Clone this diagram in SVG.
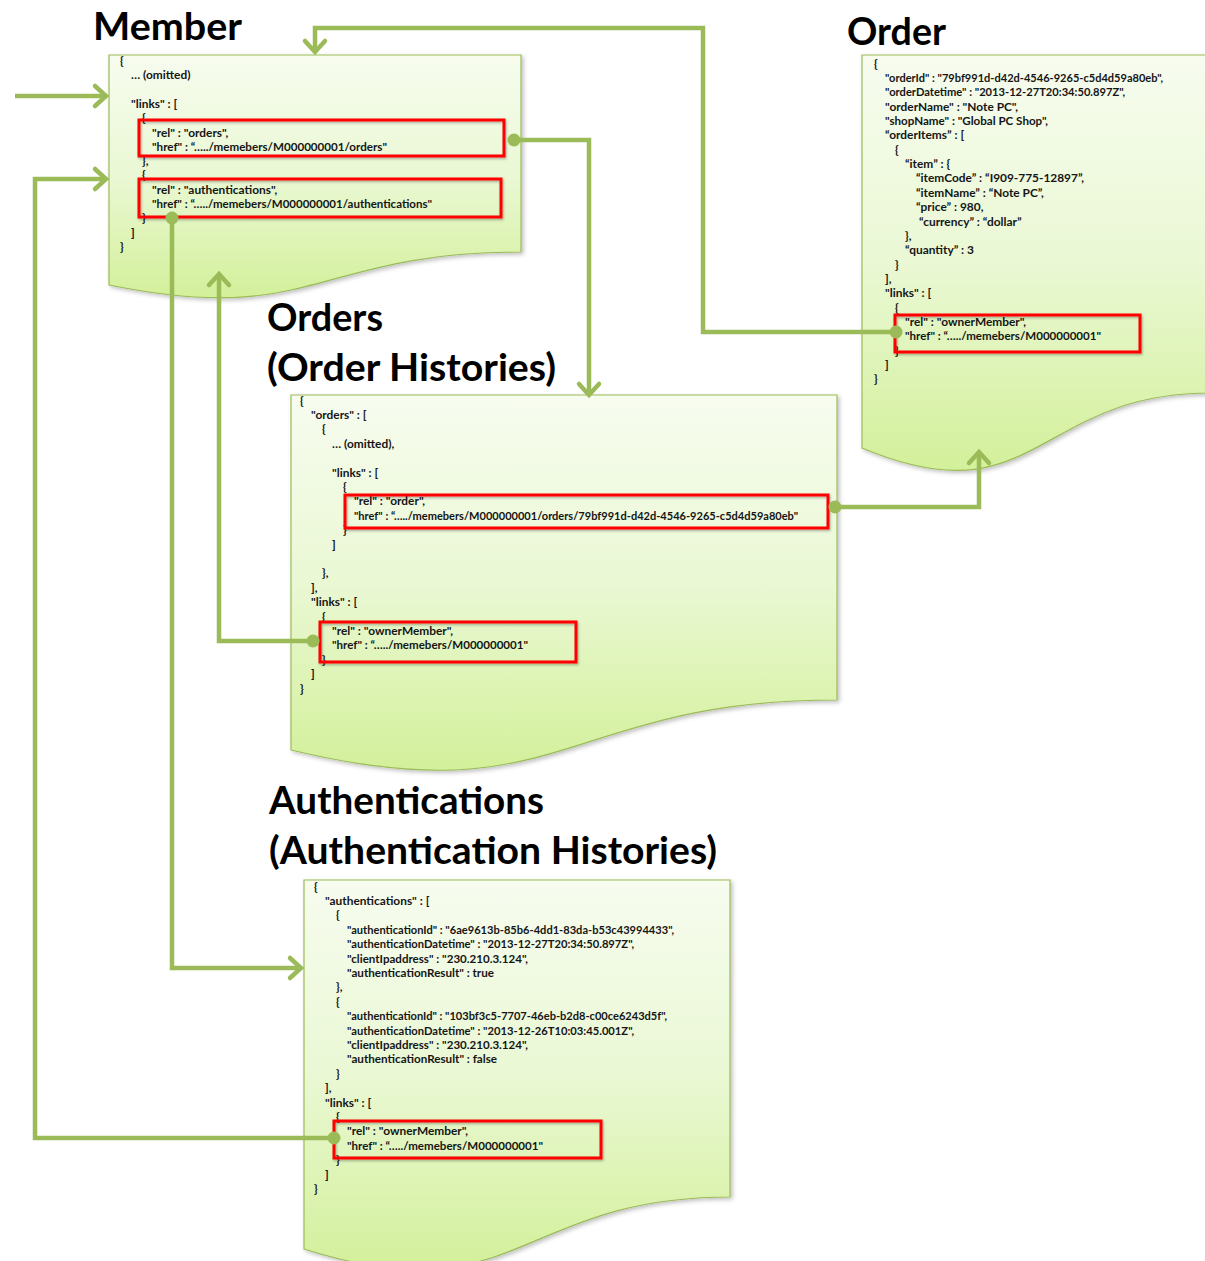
<svg xmlns="http://www.w3.org/2000/svg" width="1205" height="1261" viewBox="0 0 1205 1261">
<style>
.doc{fill:url(#docfill);stroke:#9bbb59;stroke-width:1.2;filter:url(#shadow)}
.ttl{font-family:Lato,"Open Sans","Liberation Sans",sans-serif;font-weight:bold;font-size:38px;fill:#000}
.j{font-family:Lato,"Liberation Sans",sans-serif;font-weight:bold;font-size:11.9px;fill:#151515}
.hl{fill:none;stroke:#ff0000;stroke-width:3;filter:url(#rshadow)}
.con{fill:none;stroke:#9bbb59;stroke-width:4.5;stroke-linejoin:miter;marker-start:url(#dot);marker-end:url(#arr)}
.con0{fill:none;stroke:#9bbb59;stroke-width:4.5;marker-end:url(#arr)}
</style>
<defs>
<linearGradient id="docfill" x1="0" y1="0" x2="0" y2="1">
<stop offset="0" stop-color="#f7fcef"/>
<stop offset="0.5" stop-color="#eaf8d4"/>
<stop offset="1" stop-color="#d3f09a"/>
</linearGradient>
<filter id="shadow" x="-5%" y="-5%" width="115%" height="115%">
<feDropShadow dx="2" dy="2" stdDeviation="2" flood-color="#000" flood-opacity="0.25"/>
</filter>
<filter id="rshadow" x="-5%" y="-20%" width="115%" height="150%">
<feDropShadow dx="1" dy="1.5" stdDeviation="1" flood-color="#000" flood-opacity="0.3"/>
</filter>
<marker id="arr" markerUnits="userSpaceOnUse" viewBox="-16 -14 22 28" refX="0" refY="0" markerWidth="22" markerHeight="28" orient="auto" overflow="visible">
<path d="M-11,-10 L0,0 L-11,10" fill="none" stroke="#9bbb59" stroke-width="4.5" stroke-linecap="round" stroke-linejoin="miter"/>
</marker>
<marker id="dot" markerUnits="userSpaceOnUse" viewBox="-8 -8 16 16" refX="0" refY="0" markerWidth="16" markerHeight="16" orient="auto">
<circle cx="0" cy="0" r="6.5" fill="#9bbb59"/>
</marker>
</defs>

<g id="member">
<path class="doc" d="M109,55 H521 V252 C315,252 315,327 109,285 Z"/>
<text class="ttl" x="93" y="40" textLength="149" lengthAdjust="spacingAndGlyphs">Member</text>
<text class="j" x="120" y="64.5">{</text>
<text class="j" x="131" y="79">… (omitted)</text>
<text class="j" x="131" y="108">"links" : [</text>
<text class="j" x="142" y="122">{</text>
<text class="j" x="152" y="136.5">"rel" : "orders",</text>
<text class="j" x="152" y="151" textLength="235" lengthAdjust="spacingAndGlyphs">"href" : “…../memebers/M000000001/orders"</text>
<text class="j" x="142" y="165">},</text>
<text class="j" x="142" y="179">{</text>
<text class="j" x="152" y="193.5">"rel" : "authentications",</text>
<text class="j" x="152" y="208" textLength="280" lengthAdjust="spacingAndGlyphs">"href" : “…../memebers/M000000001/authentications"</text>
<text class="j" x="142" y="222">}</text>
<text class="j" x="131" y="236.5">]</text>
<text class="j" x="120" y="251">}</text>
<rect class="hl" x="139" y="120" width="365" height="36"/>
<rect class="hl" x="139" y="179" width="362" height="38"/>
</g>

<g id="order">
<path class="doc" d="M862,55 H1210 V393 C1036,393 1036,521 862,448 Z"/>
<text class="ttl" x="847" y="45" textLength="99" lengthAdjust="spacingAndGlyphs">Order</text>
<text class="j" x="874" y="67.5">{</text>
<text class="j" x="885" y="81.9" textLength="278" lengthAdjust="spacingAndGlyphs">"orderId" : "79bf991d-d42d-4546-9265-c5d4d59a80eb",</text>
<text class="j" x="885" y="96.2" textLength="240" lengthAdjust="spacingAndGlyphs">"orderDatetime" : "2013-12-27T20:34:50.897Z",</text>
<text class="j" x="885" y="110.6">"orderName" : "Note PC",</text>
<text class="j" x="885" y="124.9" textLength="163" lengthAdjust="spacingAndGlyphs">"shopName" : "Global PC Shop",</text>
<text class="j" x="885" y="139.3">“orderItems” : [</text>
<text class="j" x="895" y="153.7">{</text>
<text class="j" x="905" y="168">“item” : {</text>
<text class="j" x="916" y="182.4">“itemCode” : “I909-775-12897”,</text>
<text class="j" x="916" y="196.7">“itemName” : “Note PC”,</text>
<text class="j" x="916" y="211.1">“price” :  980,</text>
<text class="j" x="919" y="225.5">“currency” : “dollar”</text>
<text class="j" x="905" y="239.8">},</text>
<text class="j" x="905" y="254.2">“quantity” : 3</text>
<text class="j" x="895" y="268.5">}</text>
<text class="j" x="885" y="282.9">],</text>
<text class="j" x="885" y="297.3">"links" : [</text>
<text class="j" x="895" y="311.6">{</text>
<text class="j" x="905" y="326">"rel" : "ownerMember",</text>
<text class="j" x="905" y="340.3" textLength="196" lengthAdjust="spacingAndGlyphs">"href" : “…../memebers/M000000001"</text>
<text class="j" x="895" y="354.7">}</text>
<text class="j" x="885" y="369.1">]</text>
<text class="j" x="874" y="383.4">}</text>
<rect class="hl" x="895" y="315" width="245" height="37"/>
</g>

<g id="orders">
<path class="doc" d="M291,395 H837 V700 C564,700 564,816 291,750 Z"/>
<text class="ttl" x="267" y="331" textLength="116" lengthAdjust="spacingAndGlyphs">Orders</text>
<text class="ttl" x="267" y="381" textLength="289" lengthAdjust="spacingAndGlyphs">(Order Histories)</text>
<text class="j" x="300" y="404.5">{</text>
<text class="j" x="311" y="418.9">"orders" : [</text>
<text class="j" x="322" y="433.3">{</text>
<text class="j" x="332" y="447.7">… (omitted),</text>
<text class="j" x="332" y="476.5">"links" : [</text>
<text class="j" x="343" y="490.9">{</text>
<text class="j" x="354" y="505.3">"rel" : "order",</text>
<text class="j" x="354" y="519.7" textLength="444" lengthAdjust="spacingAndGlyphs">"href" : “…../memebers/M000000001/orders/79bf991d-d42d-4546-9265-c5d4d59a80eb"</text>
<text class="j" x="343" y="534.1">}</text>
<text class="j" x="332" y="548.5">]</text>
<text class="j" x="322" y="577.3">},</text>
<text class="j" x="311" y="591.7">],</text>
<text class="j" x="311" y="606.1">"links" : [</text>
<text class="j" x="322" y="620.5">{</text>
<text class="j" x="332" y="634.9">"rel" : "ownerMember",</text>
<text class="j" x="332" y="649.3" textLength="196" lengthAdjust="spacingAndGlyphs">"href" : “…../memebers/M000000001"</text>
<text class="j" x="322" y="663.7">}</text>
<text class="j" x="311" y="678.1">]</text>
<text class="j" x="300" y="692.5">}</text>
<rect class="hl" x="345" y="495" width="483" height="33"/>
<rect class="hl" x="320" y="622" width="256" height="40"/>
</g>

<g id="authentications">
<path class="doc" d="M304,880 H730 V1197 C517,1197 517,1317 304,1249 Z"/>
<text class="ttl" x="269" y="814" textLength="275" lengthAdjust="spacingAndGlyphs">Authentications</text>
<text class="ttl" x="269" y="864" textLength="448" lengthAdjust="spacingAndGlyphs">(Authentication Histories)</text>
<text class="j" x="314" y="890.5">{</text>
<text class="j" x="325" y="904.9">"authentications" : [</text>
<text class="j" x="336" y="919.3">{</text>
<text class="j" x="347" y="933.7" textLength="327" lengthAdjust="spacingAndGlyphs">"authenticationId" : "6ae9613b-85b6-4dd1-83da-b53c43994433",</text>
<text class="j" x="347" y="948.1" textLength="287" lengthAdjust="spacingAndGlyphs">"authenticationDatetime" : "2013-12-27T20:34:50.897Z",</text>
<text class="j" x="347" y="962.5" textLength="181" lengthAdjust="spacingAndGlyphs">"clientIpaddress" : "230.210.3.124",</text>
<text class="j" x="347" y="976.9" textLength="147" lengthAdjust="spacingAndGlyphs">"authenticationResult" : true</text>
<text class="j" x="336" y="991.3">},</text>
<text class="j" x="336" y="1005.7">{</text>
<text class="j" x="347" y="1020.1" textLength="320" lengthAdjust="spacingAndGlyphs">"authenticationId" : "103bf3c5-7707-46eb-b2d8-c00ce6243d5f",</text>
<text class="j" x="347" y="1034.5" textLength="287" lengthAdjust="spacingAndGlyphs">"authenticationDatetime" : "2013-12-26T10:03:45.001Z",</text>
<text class="j" x="347" y="1048.9" textLength="181" lengthAdjust="spacingAndGlyphs">"clientIpaddress" : "230.210.3.124",</text>
<text class="j" x="347" y="1063.3" textLength="150" lengthAdjust="spacingAndGlyphs">"authenticationResult" : false</text>
<text class="j" x="336" y="1077.7">}</text>
<text class="j" x="325" y="1092.1">],</text>
<text class="j" x="325" y="1106.5">"links" : [</text>
<text class="j" x="336" y="1120.9">{</text>
<text class="j" x="347" y="1135.3">"rel" : "ownerMember",</text>
<text class="j" x="347" y="1149.7" textLength="196" lengthAdjust="spacingAndGlyphs">"href" : “…../memebers/M000000001"</text>
<text class="j" x="336" y="1164.1">}</text>
<text class="j" x="325" y="1178.5">]</text>
<text class="j" x="314" y="1192.9">}</text>
<rect class="hl" x="334" y="1121" width="267" height="37"/>
</g>

<g id="connectors">
<path class="con0" d="M15,96 H106"/>
<path class="con" d="M334,1138 H35 V179 H106"/>
<path class="con" d="M172,218 V968 H301"/>
<path class="con" d="M313,641 H219 V274"/>
<path class="con" d="M514,140 H589 V395"/>
<path class="con" d="M896,332 H703 V28 H315 V52"/>
<path class="con" d="M835,507 H979 V452"/>
</g>
</svg>
